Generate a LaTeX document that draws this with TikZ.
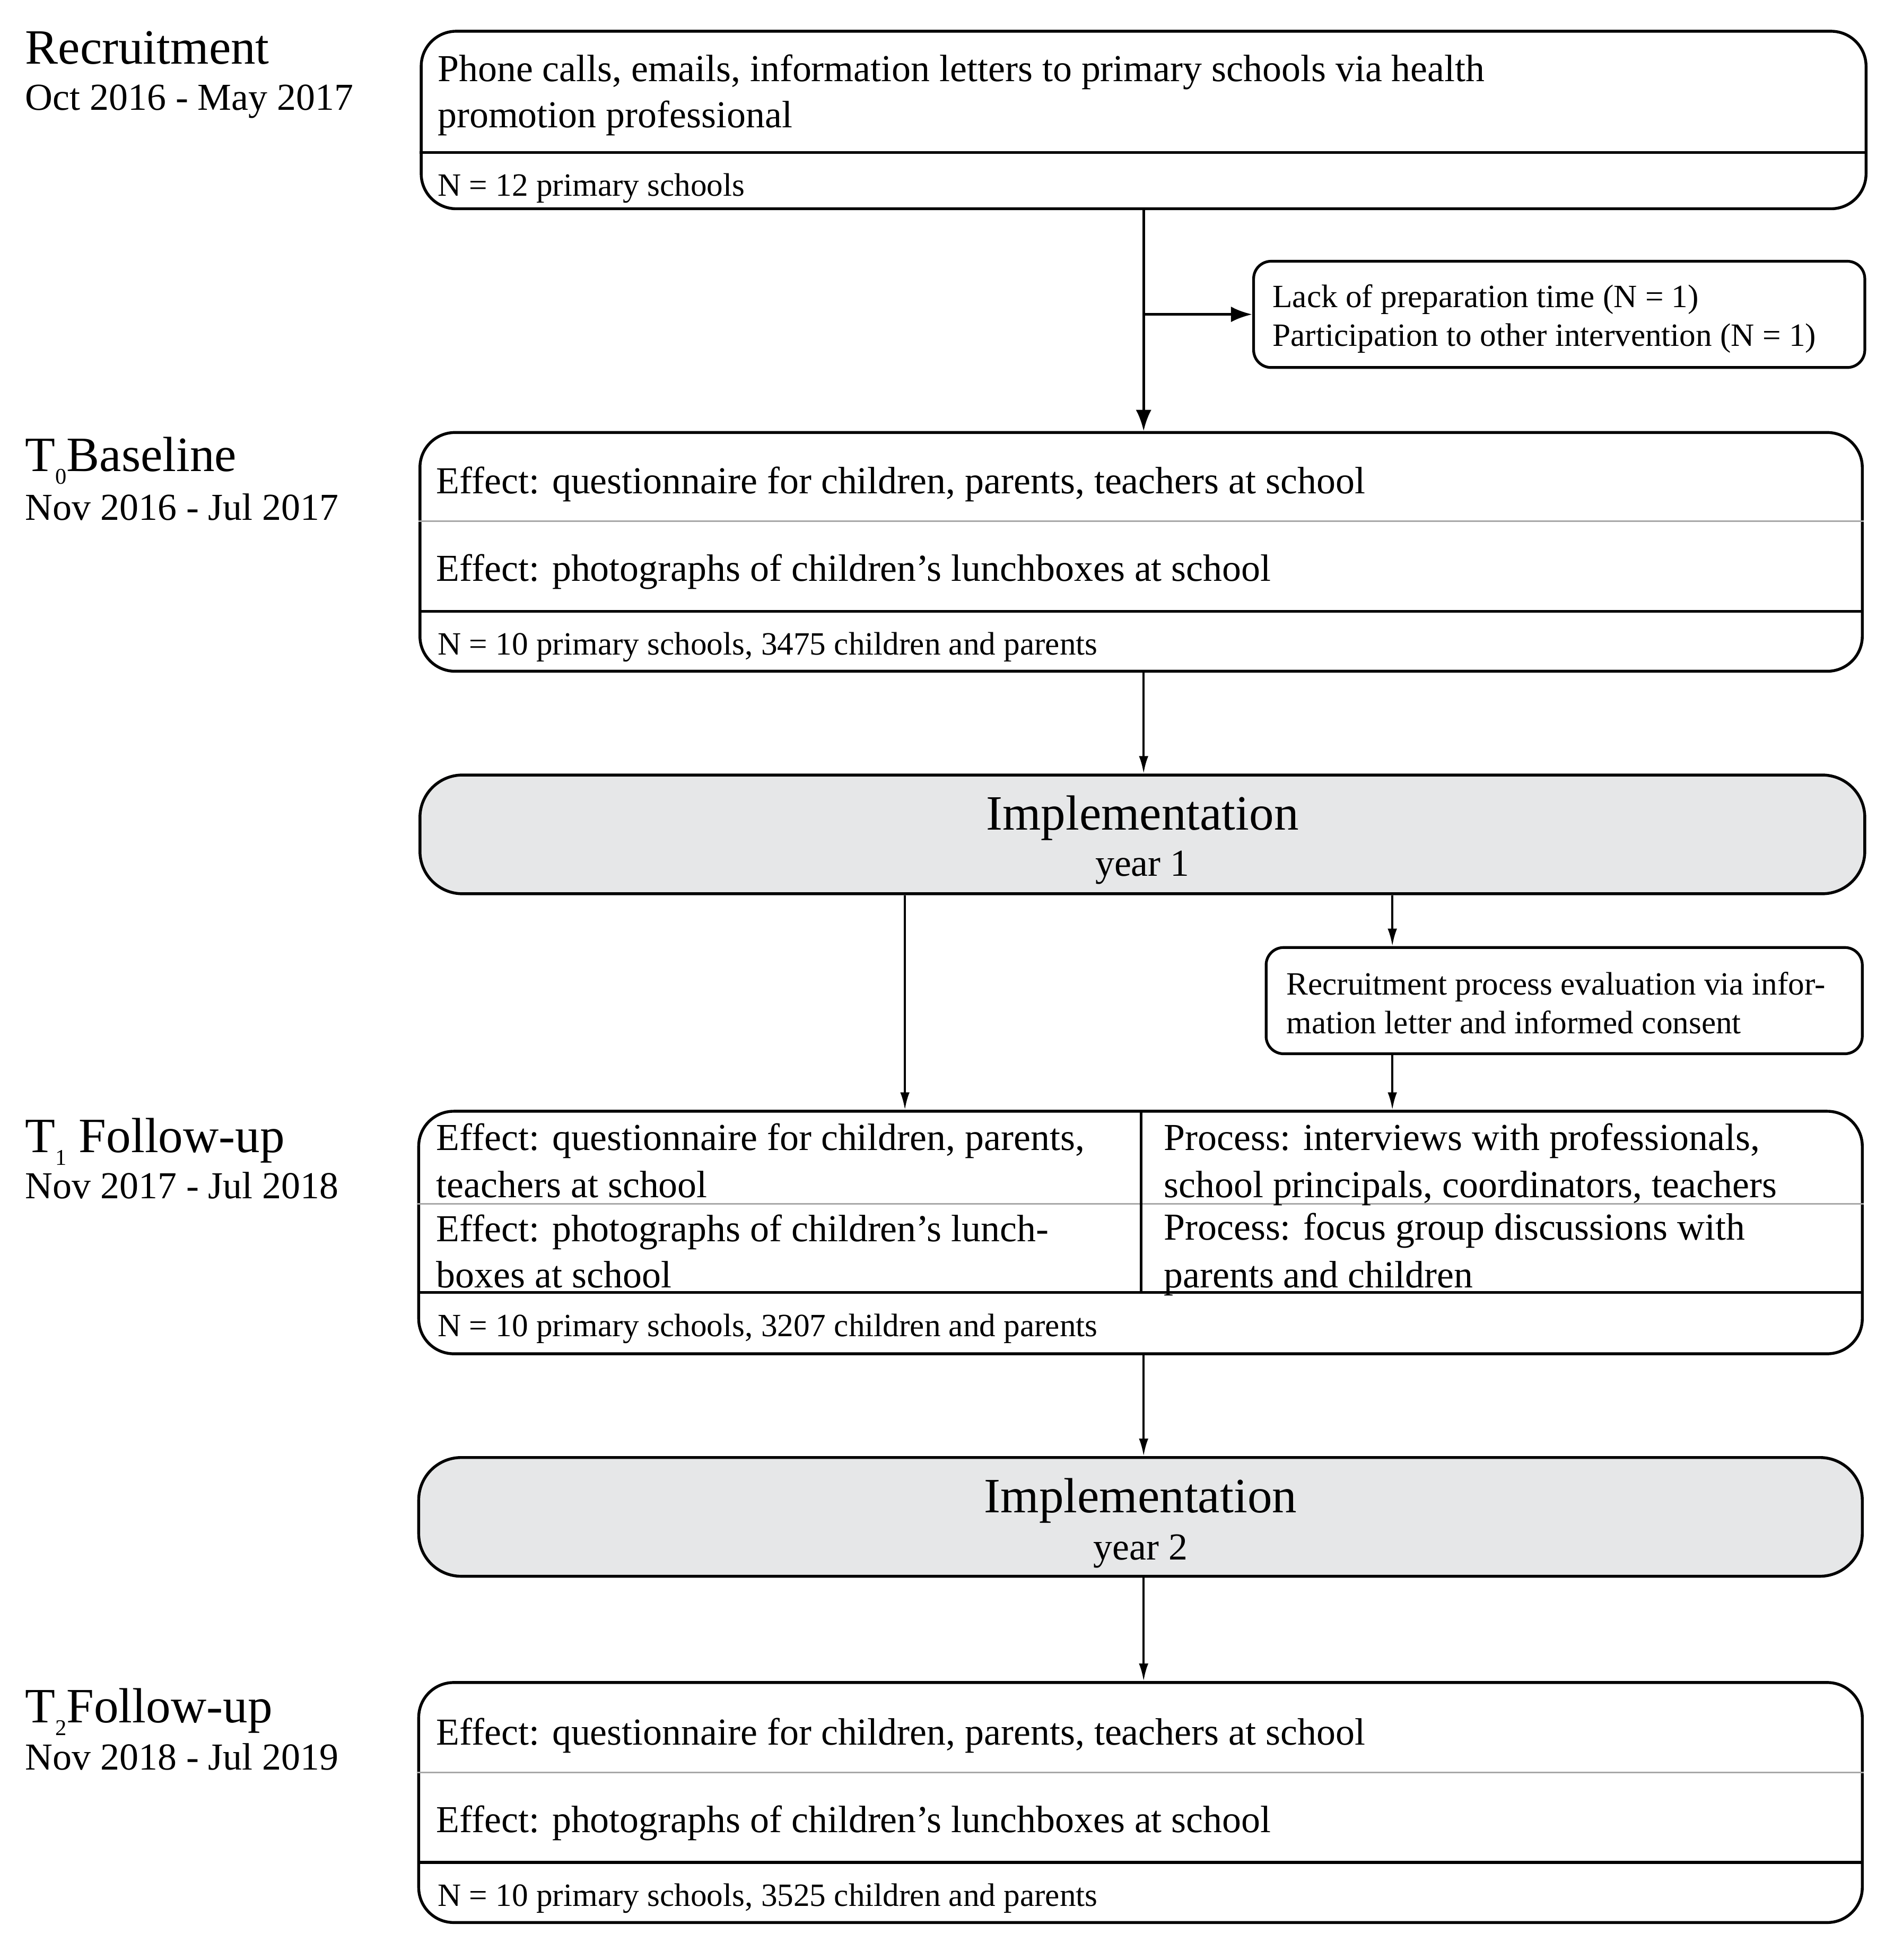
\documentclass[tikz,border=0pt]{standalone}
\usepackage{fontspec}
\setmainfont{Liberation Serif}
\usetikzlibrary{arrows.meta,calc}
\definecolor{implgray}{HTML}{E6E7E8}
\definecolor{sepgray}{HTML}{A8A8A8}
\newcommand\fmain{\fontsize{30.5}{37}\selectfont}
\newcommand\fsmall{\fontsize{26}{31}\selectfont}
\newcommand\fbig{\fontsize{39.5}{46}\selectfont}
\newcommand\subidx[1]{\raisebox{-0.26em}{\fontsize{18}{18}\selectfont #1}}
\begin{document}
\begin{tikzpicture}[x=1pt,y=-1pt,
  box/.style={draw, line width=2.3pt, rounded corners=28pt, inner sep=0pt},
  sidebox/.style={draw, line width=2.2pt, rounded corners=14pt, inner sep=0pt},
  implbox/.style={draw, line width=2.3pt, rounded corners=34pt, fill=implgray, inner sep=0pt},
  divider/.style={line width=2.4pt},
  thinsep/.style={line width=1.3pt, draw=sepgray},
  vsep/.style={line width=1.8pt},
  arrbold/.style={line width=2.2pt, -{Latex[length=17pt,width=12.5pt]}},
  arr/.style={line width=1.7pt, -{Latex[length=14pt,width=7.5pt]}},
  txt/.style={anchor=base west, inner sep=0pt, font=\fmain},
  stxt/.style={anchor=base west, inner sep=0pt, font=\fsmall},
  btxt/.style={anchor=base west, inner sep=0pt, font=\fbig},
  ctxt/.style={anchor=base, inner sep=0pt, font=\fmain},
  cbtxt/.style={anchor=base, inner sep=0pt, font=\fbig}
]
\useasboundingbox (0,0) rectangle (1515,1568);

% ---------- left labels ----------
\node[btxt] (lrec) at (20,51) {Recruitment};
\node[txt] (drec) at (20,88) {Oct 2016 - May 2017};
\node[btxt] (lt0) at (20,377) {T\subidx{0}Baseline};
\node[txt] (dt0) at (20,416) {Nov 2016 - Jul 2017};
\node[btxt] (lt1) at (20,922) {T\subidx{1} Follow-up};
\node[txt] (dt1) at (20,959) {Nov 2017 - Jul 2018};
\node[btxt] (lt2) at (20,1378) {T\subidx{2}Follow-up};
\node[txt] (dt2) at (20,1416) {Nov 2018 - Jul 2019};

% ---------- boxes ----------
\node[box, minimum width=1156pt, minimum height=142pt] (b1) at (915,96) {};
\node[sidebox, minimum width=489pt, minimum height=85pt] (s1) at (1247.5,251.5) {};
\node[box, minimum width=1154pt, minimum height=191pt] (t0) at (913,441.5) {};
\node[implbox, minimum width=1156pt, minimum height=95pt] (i1) at (914,667.5) {};
\node[sidebox, minimum width=477pt, minimum height=85pt] (s2) at (1251.5,800.5) {};
\node[box, minimum width=1155pt, minimum height=194pt] (t1) at (912.5,986) {};
\node[implbox, minimum width=1155pt, minimum height=95pt] (i2) at (912.5,1213.5) {};
\node[box, minimum width=1155pt, minimum height=192pt] (t2) at (912.5,1442) {};

% ---------- dividers ----------
\draw[divider] (b1.west |- 0,122) -- (b1.east |- 0,122);
\draw[thinsep] (t0.west |- 0,417) -- (t0.east |- 0,417);
\draw[divider] (t0.west |- 0,489) -- (t0.east |- 0,489);
\draw[thinsep] (t1.west |- 0,963) -- (t1.east |- 0,963);
\draw[divider] (t1.west |- 0,1034) -- (t1.east |- 0,1034);
\draw[vsep] (t1.north -| 913,0) -- (913,1034);
\draw[thinsep] (t2.west |- 0,1418) -- (t2.east |- 0,1418);
\draw[divider] (t2.west |- 0,1490) -- (t2.east |- 0,1490);

% ---------- texts in boxes ----------
\node[txt] (b1a) at (350,65) {Phone calls, emails, information letters to primary schools via health};
\node[txt] (b1b) at (350,102) {promotion professional};
\node[stxt] (b1n) at (350,157) {N = 12 primary schools};

\node[stxt] (s1a) at (1018,246) {Lack of preparation time (N = 1)};
\node[stxt] (s1b) at (1018,277) {Participation to other intervention (N = 1)};

\node[txt] (t0a) at (349,395) {Effect: questionnaire for children, parents, teachers at school};
\node[txt] (t0b) at (349,465) {Effect: photographs of children’s lunchboxes at school};
\node[stxt] (t0n) at (350,524) {N = 10 primary schools, 3475 children and parents};

\node[cbtxt] (i1a) at (914,664) {Implementation};
\node[ctxt] (i1b) at (914,701) {year 1};

\node[stxt] (s2a) at (1029,796) {Recruitment process evaluation via infor-};
\node[stxt] (s2b) at (1029,827) {mation letter and informed consent};

\node[txt] (t1a) at (349,920) {Effect: questionnaire for children, parents,};
\node[txt] (t1b) at (349,958) {teachers at school};
\node[txt] (t1c) at (349,993) {Effect: photographs of children’s lunch-};
\node[txt] (t1d) at (349,1030) {boxes at school};
\node[txt] (t1e) at (931,920) {Process: interviews with professionals,};
\node[txt] (t1f) at (931,958) {school principals, coordinators, teachers};
\node[txt] (t1g) at (931,992) {Process: focus group discussions with};
\node[txt] (t1h) at (931,1030) {parents and children};
\node[stxt] (t1n) at (350,1069) {N = 10 primary schools, 3207 children and parents};

\node[cbtxt] (i2a) at (912.5,1210) {Implementation};
\node[ctxt] (i2b) at (912.5,1248) {year 2};

\node[txt] (t2a) at (349,1396) {Effect: questionnaire for children, parents, teachers at school};
\node[txt] (t2b) at (349,1466) {Effect: photographs of children’s lunchboxes at school};
\node[stxt] (t2n) at (350,1525) {N = 10 primary schools, 3525 children and parents};

% ---------- connectors ----------
\coordinate (mid) at (915,0);
\coordinate (cl) at (724,0);
\coordinate (cr) at (1114,0);
\draw[arrbold] (b1.south -| mid) -- (t0.north -| mid);
\draw[arrbold] (mid |- s1.west) -- (s1.west);
\draw[arr] (t0.south -| mid) -- (i1.north -| mid);
\draw[arr] (i1.south -| cl) -- (t1.north -| cl);
\draw[arr] (i1.south -| cr) -- (s2.north -| cr);
\draw[arr] (s2.south -| cr) -- (t1.north -| cr);
\draw[arr] (t1.south -| mid) -- (i2.north -| mid);
\draw[arr] (i2.south -| mid) -- (t2.north -| mid);
\end{tikzpicture}
\end{document}
